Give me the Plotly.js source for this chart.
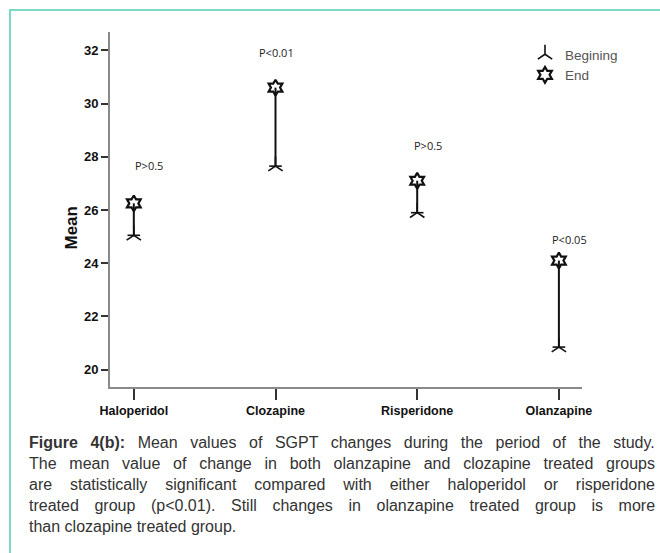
<!DOCTYPE html>
<html>
<head>
<meta charset="utf-8">
<script src="https://cdn.plot.ly/plotly-3.0.1.min.js"></script>
<style>
  html, body { margin: 0; padding: 0; background: #fff; }
  #chart { width: 660px; height: 553px; }
</style>
</head>
<body>
<div id="chart"></div>
<script>
// Mean SGPT at the beginning and end of the study, per treatment group
const drugs = ['Haloperidol', 'Clozapine', 'Risperidone', 'Olanzapine'];
const meanBegin = [25.05, 27.65, 25.9, 20.85];
const meanEnd = [26.25, 30.6, 27.1, 24.1];
const pLabels = ['P>0.5', 'P<0.01', 'P>0.5', 'P<0.05'];
const yTicks = [20, 22, 24, 26, 28, 30, 32];
const legendNames = ['Begining', 'End'];

// Figure caption (first part of line one is bold)
const captionBold = 'Figure 4(b):';
const captionLines = [
  ' Mean values of SGPT changes during the period of the study.',
  'The mean value of change in both olanzapine and clozapine treated groups',
  'are statistically significant compared with either haloperidol or risperidone',
  'treated group (p<0.01). Still changes in olanzapine treated group is more',
  'than clozapine treated group.'
];

// ---- page geometry ----
const W = 660, H = 553;
const M = { l: 110, r: 78, t: 32, b: 166 };
const PW = W - M.l - M.r, PH = H - M.t - M.b;
const px = x => (x - M.l) / PW;
const py = y => (H - M.b - y) / PH;

const sans = '"Liberation Sans", Arial, sans-serif';
const capSize = 16;
const capLeft = 27, capRight = 653;

const esc = s => s.replace(/&/g, '&amp;').replace(/</g, '&lt;').replace(/>/g, '&gt;');

const ctx = document.createElement('canvas').getContext('2d');
function textWidth(str, weight) {
  ctx.font = (weight || 'normal') + ' ' + capSize + 'px "Liberation Sans"';
  return ctx.measureText(str).width;
}

// vertical connectors from the beginning mean to the end mean
const lineX = [], lineY = [];
drugs.forEach((d, i) => {
  lineX.push(d, d, null);
  lineY.push(meanBegin[i], meanEnd[i], null);
});

const traces = [
  {
    x: lineX, y: lineY, mode: 'lines', type: 'scatter',
    line: { color: '#111', width: 2 }, showlegend: false, hoverinfo: 'skip'
  },
  {
    x: drugs, y: meanBegin, mode: 'markers', type: 'scatter', name: legendNames[0],
    marker: { symbol: 'y-up-open', size: 12, color: '#111', line: { color: '#111', width: 1.6 } }
  },
  {
    x: drugs, y: meanBegin, mode: 'markers', type: 'scatter', showlegend: false,
    marker: { symbol: 'line-ew-open', size: 9, color: '#111', line: { color: '#111', width: 1.6 } }
  },
  {
    x: drugs, y: meanEnd, mode: 'markers', type: 'scatter', name: legendNames[1],
    marker: { symbol: 'hexagram-open', size: 12, color: '#111', line: { color: '#111', width: 2.2 } }
  }
];

const annotations = [];

// p-value labels above each group
const pShift = [[15, -38], [1, -35], [11, -35], [11, -21]];
drugs.forEach((d, i) => {
  annotations.push({
    x: d, y: meanEnd[i], xref: 'x', yref: 'y',
    text: esc(pLabels[i]), showarrow: false,
    xshift: pShift[i][0], yshift: -pShift[i][1],
    font: { family: '"Open Sans", sans-serif', size: 11, color: '#222' }
  });
});

// rotated y-axis title
annotations.push({
  x: px(71.5), y: py(228), xref: 'paper', yref: 'paper',
  xanchor: 'center', yanchor: 'middle',
  text: '<b>Mean</b>', textangle: -90, showarrow: false,
  font: { family: sans, size: 17, color: '#111' }
});

// justified caption lines
const capWidth = capRight - capLeft;
captionLines.forEach((line, i) => {
  const isFirst = i === 0;
  const isLast = i === captionLines.length - 1;
  const full = (isFirst ? captionBold : '') + line;
  const w = (isFirst ? textWidth(captionBold, 'bold') : 0) + textWidth(line);
  const spaces = (full.match(/ /g) || []).length;
  const ws = isLast ? 0 : (capWidth - w) / spaces;
  const body = (isFirst ? '<b>' + esc(captionBold) + '</b>' : '') + esc(line);
  annotations.push({
    x: px(capLeft), y: py(442 + i * 21), xref: 'paper', yref: 'paper',
    xanchor: 'left', yanchor: 'middle', align: 'left', showarrow: false,
    text: '<span style="word-spacing:' + ws.toFixed(2) + 'px">' + body + '</span>',
    font: { family: sans, size: capSize, color: '#333' }
  });
});

const layout = {
  width: W, height: H,
  margin: M,
  paper_bgcolor: '#fff', plot_bgcolor: '#fff',
  showlegend: true,
  legend: {
    x: px(525), y: py(39), xanchor: 'left', yanchor: 'top',
    bgcolor: 'rgba(0,0,0,0)', borderwidth: 0,
    font: { family: sans, size: 13.5, color: '#555' },
    itemwidth: 30
  },
  xaxis: {
    type: 'category', categoryorder: 'array', categoryarray: drugs,
    range: [-0.168, 3.163],
    showline: true, linecolor: '#8a8a8a', linewidth: 2,
    ticks: 'outside', ticklen: 11, tickwidth: 2, tickcolor: '#333',
    showgrid: false, zeroline: false,
    tickfont: { family: sans, size: 12.5, color: '#111', weight: 'bold' }
  },
  yaxis: {
    range: [19.35, 32.69],
    tickmode: 'array', tickvals: yTicks, ticktext: yTicks.map(String),
    showline: true, linecolor: '#8a8a8a', linewidth: 2,
    ticks: 'outside', ticklen: 7, tickwidth: 2, tickcolor: '#333',
    showgrid: false, zeroline: false,
    tickfont: { family: sans, size: 13, color: '#111', weight: 'bold' }
  },
  shapes: [{
    type: 'rect', xref: 'paper', yref: 'paper',
    x0: px(10), x1: px(720), y0: py(620), y1: py(10),
    line: { color: '#7dd8c8', width: 2 }, fillcolor: 'rgba(0,0,0,0)', layer: 'below'
  }],
  annotations: annotations
};

Plotly.newPlot('chart', traces, layout, { staticPlot: true, displayModeBar: false });
</script>
</body>
</html>
